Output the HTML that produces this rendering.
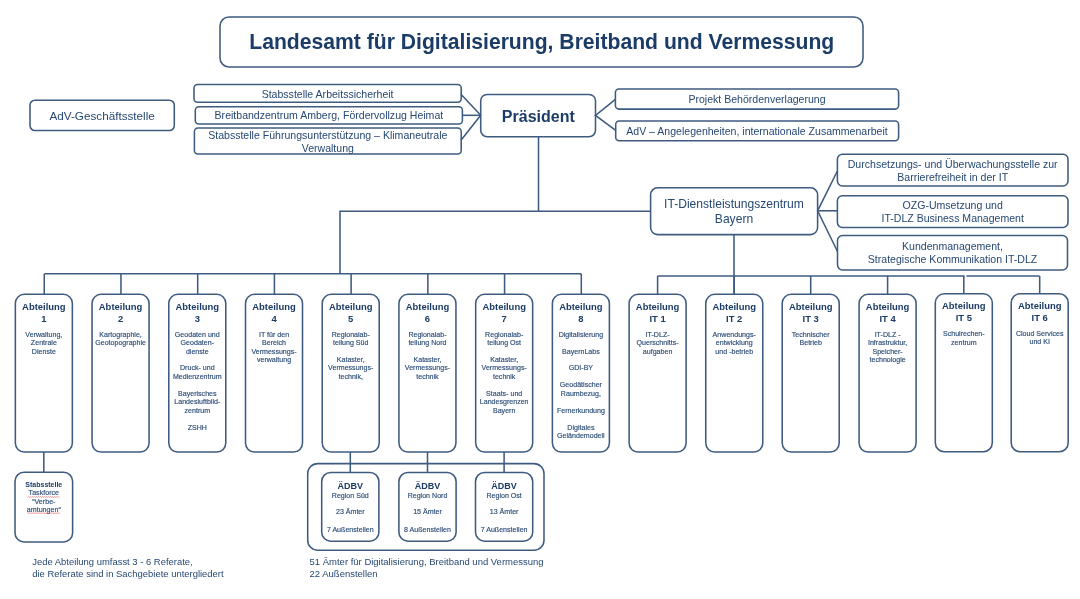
<!DOCTYPE html>
<html><head><meta charset="utf-8"><style>
html,body{margin:0;padding:0;background:#fff;}
svg{display:block;will-change:transform;}
text{font-family:"Liberation Sans",sans-serif;}
.sm{stroke:#3a5a82;stroke-width:0.18;}
</style></head><body>
<svg width="1080" height="599" viewBox="0 0 1080 599">
<rect width="1080" height="599" fill="#fff"/>
<g fill="none" stroke="#3e5b80" stroke-width="1.55">
<rect x="220.00" y="17.00" width="643.00" height="50.00" rx="9" ry="9"/>
<rect x="30.00" y="100.20" width="144.30" height="30.40" rx="5" ry="5"/>
<rect x="194.00" y="84.40" width="267.20" height="17.90" rx="3.5" ry="3.5"/>
<rect x="195.30" y="106.70" width="267.10" height="17.30" rx="3.5" ry="3.5"/>
<rect x="194.40" y="128.00" width="266.80" height="26.00" rx="3.5" ry="3.5"/>
<path d="M461.20 94.50 L480.70 115.30 L461.20 140.00"/>
<path d="M462.40 115.30 L480.70 115.30"/>
<rect x="480.70" y="94.40" width="114.80" height="42.40" rx="6.5" ry="6.5"/>
<rect x="615.40" y="89.00" width="283.20" height="20.10" rx="3.5" ry="3.5"/>
<rect x="615.70" y="120.90" width="282.90" height="19.90" rx="3.5" ry="3.5"/>
<path d="M615.40 99.30 L595.50 115.50 L615.70 130.30"/>
<path d="M538.50 136.80 L538.50 211.20"/>
<path d="M340.00 273.75 L340.00 211.20 L650.60 211.20"/>
<rect x="650.60" y="187.80" width="167.00" height="46.80" rx="7" ry="7"/>
<rect x="837.40" y="154.30" width="230.60" height="31.60" rx="5" ry="5"/>
<rect x="837.40" y="195.80" width="230.60" height="31.60" rx="5" ry="5"/>
<rect x="837.50" y="235.50" width="230.00" height="34.50" rx="5" ry="5"/>
<path d="M837.40 171.00 L817.60 210.80 L837.50 251.50"/>
<path d="M817.60 210.80 L837.40 210.80"/>
<path d="M734.00 234.60 L734.00 294.30"/>
<path d="M44.50 273.75 L581.25 273.75"/>
<rect x="15.35" y="294.30" width="57.00" height="157.80" rx="9" ry="9"/>
<path d="M44.25 273.75 L44.25 294.30"/>
<rect x="92.07" y="294.30" width="57.00" height="157.80" rx="9" ry="9"/>
<path d="M120.97 273.75 L120.97 294.30"/>
<rect x="168.79" y="294.30" width="57.00" height="157.80" rx="9" ry="9"/>
<path d="M197.69 273.75 L197.69 294.30"/>
<rect x="245.51" y="294.30" width="57.00" height="157.80" rx="9" ry="9"/>
<path d="M274.41 273.75 L274.41 294.30"/>
<rect x="322.23" y="294.30" width="57.00" height="157.80" rx="9" ry="9"/>
<path d="M351.13 273.75 L351.13 294.30"/>
<rect x="398.95" y="294.30" width="57.00" height="157.80" rx="9" ry="9"/>
<path d="M427.85 273.75 L427.85 294.30"/>
<rect x="475.67" y="294.30" width="57.00" height="157.80" rx="9" ry="9"/>
<path d="M504.57 273.75 L504.57 294.30"/>
<rect x="552.39" y="294.30" width="57.00" height="157.80" rx="9" ry="9"/>
<path d="M581.29 273.75 L581.29 294.30"/>
<path d="M657.50 276.00 L964.60 276.00"/>
<path d="M966.40 276.00 L1039.50 276.00"/>
<rect x="629.10" y="294.30" width="57.00" height="157.80" rx="9" ry="9"/>
<path d="M657.60 276.00 L657.60 294.30"/>
<rect x="705.75" y="294.30" width="57.00" height="157.80" rx="9" ry="9"/>
<path d="M734.25 276.00 L734.25 294.30"/>
<rect x="782.20" y="294.30" width="57.00" height="157.80" rx="9" ry="9"/>
<path d="M810.70 276.00 L810.70 294.30"/>
<rect x="859.10" y="294.30" width="57.00" height="157.80" rx="9" ry="9"/>
<path d="M887.60 276.00 L887.60 294.30"/>
<rect x="935.30" y="293.80" width="57.00" height="158.00" rx="9" ry="9"/>
<path d="M963.80 276.00 L963.80 293.80"/>
<rect x="1011.20" y="293.70" width="57.00" height="158.04" rx="9" ry="9"/>
<path d="M1039.70 276.00 L1039.70 293.70"/>
<rect x="15.00" y="472.20" width="57.60" height="69.70" rx="9" ry="9"/>
<path d="M43.80 452.10 L43.80 472.20"/>
<rect x="307.70" y="463.60" width="236.30" height="86.60" rx="10" ry="10"/>
<rect x="321.70" y="472.50" width="57.20" height="68.70" rx="9" ry="9"/>
<path d="M350.30 452.10 L350.30 472.50"/>
<rect x="398.90" y="472.50" width="57.20" height="68.70" rx="9" ry="9"/>
<path d="M427.50 452.10 L427.50 472.50"/>
<rect x="475.50" y="472.50" width="57.20" height="68.70" rx="9" ry="9"/>
<path d="M504.10 452.10 L504.10 472.50"/>
</g>
<g fill="none">
<path d="M27.5 497 L28.50 496.30 L29.50 497.70 L30.50 496.30 L31.50 497.70 L32.50 496.30 L33.50 497.70 L34.50 496.30 L35.50 497.70 L36.50 496.30 L37.50 497.70 L38.50 496.30 L39.50 497.70 L40.50 496.30 L41.50 497.70 L42.50 496.30 L43.50 497.70 L44.50 496.30 L45.50 497.70 L46.50 496.30 L47.50 497.70 L48.50 496.30 L49.50 497.70 L50.50 496.30 L51.50 497.70 L52.50 496.30 L53.50 497.70 L54.50 496.30 L55.50 497.70 L56.50 496.30 L57.50 497.70 L58.50 496.30 L59.50 497.70" stroke="#e87070" stroke-width="0.55"/>
<path d="M27 513.2 L28.00 512.50 L29.00 513.90 L30.00 512.50 L31.00 513.90 L32.00 512.50 L33.00 513.90 L34.00 512.50 L35.00 513.90 L36.00 512.50 L37.00 513.90 L38.00 512.50 L39.00 513.90 L40.00 512.50 L41.00 513.90 L42.00 512.50 L43.00 513.90 L44.00 512.50 L45.00 513.90 L46.00 512.50 L47.00 513.90 L48.00 512.50 L49.00 513.90 L50.00 512.50 L51.00 513.90 L52.00 512.50 L53.00 513.90 L54.00 512.50 L55.00 513.90 L56.00 512.50 L57.00 513.90 L58.00 512.50 L59.00 513.90 L60.00 512.50" stroke="#e87070" stroke-width="0.55"/>
</g>
<g>
<text x="541.75" y="48.90" font-size="21.15" text-anchor="middle" font-weight="700" fill="#1b3c66">Landesamt für Digitalisierung, Breitband und Vermessung</text>
<text x="102.15" y="119.90" font-size="11.7" text-anchor="middle" fill="#264873">AdV-Geschäftsstelle</text>
<text x="327.60" y="97.90" font-size="10.55" text-anchor="middle" fill="#264873">Stabsstelle Arbeitssicherheit</text>
<text x="328.90" y="119.00" font-size="10.55" text-anchor="middle" fill="#264873">Breitbandzentrum Amberg, Fördervollzug Heimat</text>
<text x="327.80" y="138.80" font-size="10.55" text-anchor="middle" fill="#264873">Stabsstelle Führungsunterstützung – Klimaneutrale</text>
<text x="327.80" y="151.50" font-size="10.55" text-anchor="middle" fill="#264873">Verwaltung</text>
<text x="538.30" y="121.50" font-size="16" text-anchor="middle" font-weight="700" fill="#1b3c66">Präsident</text>
<text x="757.00" y="102.90" font-size="10.55" text-anchor="middle" fill="#264873">Projekt Behördenverlagerung</text>
<text x="757.00" y="134.80" font-size="10.55" text-anchor="middle" fill="#264873">AdV – Angelegenheiten, internationale Zusammenarbeit</text>
<text x="734.00" y="208.10" font-size="12.1" text-anchor="middle" fill="#264873">IT-Dienstleistungszentrum</text>
<text x="734.00" y="222.60" font-size="12.1" text-anchor="middle" fill="#264873">Bayern</text>
<text x="952.70" y="167.50" font-size="10.55" text-anchor="middle" fill="#264873">Durchsetzungs- und Überwachungsstelle zur</text>
<text x="952.70" y="180.70" font-size="10.55" text-anchor="middle" fill="#264873">Barrierefreiheit in der IT</text>
<text x="952.70" y="208.90" font-size="10.55" text-anchor="middle" fill="#264873">OZG-Umsetzung und</text>
<text x="952.70" y="222.20" font-size="10.55" text-anchor="middle" fill="#264873">IT-DLZ Business Management</text>
<text x="952.50" y="250.00" font-size="10.55" text-anchor="middle" fill="#264873">Kundenmanagement,</text>
<text x="952.50" y="262.60" font-size="10.55" text-anchor="middle" fill="#264873">Strategische Kommunikation IT-DLZ</text>
<text x="43.85" y="309.80" font-size="9.45" text-anchor="middle" font-weight="700" fill="#1b3c66">Abteilung</text>
<text x="43.85" y="321.60" font-size="9.45" text-anchor="middle" font-weight="700" fill="#1b3c66">1</text>
<text class="sm" transform="translate(43.85 336.60) scale(0.885 1)" font-size="8" text-anchor="middle" fill="#264873">Verwaltung,</text>
<text class="sm" transform="translate(43.85 345.05) scale(0.885 1)" font-size="8" text-anchor="middle" fill="#264873">Zentrale</text>
<text class="sm" transform="translate(43.85 353.50) scale(0.885 1)" font-size="8" text-anchor="middle" fill="#264873">Dienste</text>
<text x="120.57" y="309.80" font-size="9.45" text-anchor="middle" font-weight="700" fill="#1b3c66">Abteilung</text>
<text x="120.57" y="321.60" font-size="9.45" text-anchor="middle" font-weight="700" fill="#1b3c66">2</text>
<text class="sm" transform="translate(120.57 336.60) scale(0.885 1)" font-size="8" text-anchor="middle" fill="#264873">Kartographie,</text>
<text class="sm" transform="translate(120.57 345.05) scale(0.885 1)" font-size="8" text-anchor="middle" fill="#264873">Geotopographie</text>
<text x="197.29" y="309.80" font-size="9.45" text-anchor="middle" font-weight="700" fill="#1b3c66">Abteilung</text>
<text x="197.29" y="321.60" font-size="9.45" text-anchor="middle" font-weight="700" fill="#1b3c66">3</text>
<text class="sm" transform="translate(197.29 336.60) scale(0.885 1)" font-size="8" text-anchor="middle" fill="#264873">Geodaten und</text>
<text class="sm" transform="translate(197.29 345.05) scale(0.885 1)" font-size="8" text-anchor="middle" fill="#264873">Geodaten-</text>
<text class="sm" transform="translate(197.29 353.50) scale(0.885 1)" font-size="8" text-anchor="middle" fill="#264873">dienste</text>
<text class="sm" transform="translate(197.29 370.40) scale(0.885 1)" font-size="8" text-anchor="middle" fill="#264873">Druck- und</text>
<text class="sm" transform="translate(197.29 378.85) scale(0.885 1)" font-size="8" text-anchor="middle" fill="#264873">Medienzentrum</text>
<text class="sm" transform="translate(197.29 395.75) scale(0.885 1)" font-size="8" text-anchor="middle" fill="#264873">Bayerisches</text>
<text class="sm" transform="translate(197.29 404.20) scale(0.885 1)" font-size="8" text-anchor="middle" fill="#264873">Landesluftbild-</text>
<text class="sm" transform="translate(197.29 412.65) scale(0.885 1)" font-size="8" text-anchor="middle" fill="#264873">zentrum</text>
<text class="sm" transform="translate(197.29 429.55) scale(0.885 1)" font-size="8" text-anchor="middle" fill="#264873">ZSHH</text>
<text x="274.01" y="309.80" font-size="9.45" text-anchor="middle" font-weight="700" fill="#1b3c66">Abteilung</text>
<text x="274.01" y="321.60" font-size="9.45" text-anchor="middle" font-weight="700" fill="#1b3c66">4</text>
<text class="sm" transform="translate(274.01 336.60) scale(0.885 1)" font-size="8" text-anchor="middle" fill="#264873">IT für den</text>
<text class="sm" transform="translate(274.01 345.05) scale(0.885 1)" font-size="8" text-anchor="middle" fill="#264873">Bereich</text>
<text class="sm" transform="translate(274.01 353.50) scale(0.885 1)" font-size="8" text-anchor="middle" fill="#264873">Vermessungs-</text>
<text class="sm" transform="translate(274.01 361.95) scale(0.885 1)" font-size="8" text-anchor="middle" fill="#264873">verwaltung</text>
<text x="350.73" y="309.80" font-size="9.45" text-anchor="middle" font-weight="700" fill="#1b3c66">Abteilung</text>
<text x="350.73" y="321.60" font-size="9.45" text-anchor="middle" font-weight="700" fill="#1b3c66">5</text>
<text class="sm" transform="translate(350.73 336.60) scale(0.885 1)" font-size="8" text-anchor="middle" fill="#264873">Regionalab-</text>
<text class="sm" transform="translate(350.73 345.05) scale(0.885 1)" font-size="8" text-anchor="middle" fill="#264873">teilung Süd</text>
<text class="sm" transform="translate(350.73 361.95) scale(0.885 1)" font-size="8" text-anchor="middle" fill="#264873">Kataster,</text>
<text class="sm" transform="translate(350.73 370.40) scale(0.885 1)" font-size="8" text-anchor="middle" fill="#264873">Vermessungs-</text>
<text class="sm" transform="translate(350.73 378.85) scale(0.885 1)" font-size="8" text-anchor="middle" fill="#264873">technik,</text>
<text x="427.45" y="309.80" font-size="9.45" text-anchor="middle" font-weight="700" fill="#1b3c66">Abteilung</text>
<text x="427.45" y="321.60" font-size="9.45" text-anchor="middle" font-weight="700" fill="#1b3c66">6</text>
<text class="sm" transform="translate(427.45 336.60) scale(0.885 1)" font-size="8" text-anchor="middle" fill="#264873">Regionalab-</text>
<text class="sm" transform="translate(427.45 345.05) scale(0.885 1)" font-size="8" text-anchor="middle" fill="#264873">teilung Nord</text>
<text class="sm" transform="translate(427.45 361.95) scale(0.885 1)" font-size="8" text-anchor="middle" fill="#264873">Kataster,</text>
<text class="sm" transform="translate(427.45 370.40) scale(0.885 1)" font-size="8" text-anchor="middle" fill="#264873">Vermessungs-</text>
<text class="sm" transform="translate(427.45 378.85) scale(0.885 1)" font-size="8" text-anchor="middle" fill="#264873">technik</text>
<text x="504.17" y="309.80" font-size="9.45" text-anchor="middle" font-weight="700" fill="#1b3c66">Abteilung</text>
<text x="504.17" y="321.60" font-size="9.45" text-anchor="middle" font-weight="700" fill="#1b3c66">7</text>
<text class="sm" transform="translate(504.17 336.60) scale(0.885 1)" font-size="8" text-anchor="middle" fill="#264873">Regionalab-</text>
<text class="sm" transform="translate(504.17 345.05) scale(0.885 1)" font-size="8" text-anchor="middle" fill="#264873">teilung Ost</text>
<text class="sm" transform="translate(504.17 361.95) scale(0.885 1)" font-size="8" text-anchor="middle" fill="#264873">Kataster,</text>
<text class="sm" transform="translate(504.17 370.40) scale(0.885 1)" font-size="8" text-anchor="middle" fill="#264873">Vermessungs-</text>
<text class="sm" transform="translate(504.17 378.85) scale(0.885 1)" font-size="8" text-anchor="middle" fill="#264873">technik</text>
<text class="sm" transform="translate(504.17 395.75) scale(0.885 1)" font-size="8" text-anchor="middle" fill="#264873">Staats- und</text>
<text class="sm" transform="translate(504.17 404.20) scale(0.885 1)" font-size="8" text-anchor="middle" fill="#264873">Landesgrenzen</text>
<text class="sm" transform="translate(504.17 412.65) scale(0.885 1)" font-size="8" text-anchor="middle" fill="#264873">Bayern</text>
<text x="580.89" y="309.80" font-size="9.45" text-anchor="middle" font-weight="700" fill="#1b3c66">Abteilung</text>
<text x="580.89" y="321.60" font-size="9.45" text-anchor="middle" font-weight="700" fill="#1b3c66">8</text>
<text class="sm" transform="translate(580.89 336.60) scale(0.885 1)" font-size="8" text-anchor="middle" fill="#264873">Digitalisierung</text>
<text class="sm" transform="translate(580.89 353.50) scale(0.885 1)" font-size="8" text-anchor="middle" fill="#264873">BayernLabs</text>
<text class="sm" transform="translate(580.89 370.40) scale(0.885 1)" font-size="8" text-anchor="middle" fill="#264873">GDI-BY</text>
<text class="sm" transform="translate(580.89 387.30) scale(0.885 1)" font-size="8" text-anchor="middle" fill="#264873">Geodätischer</text>
<text class="sm" transform="translate(580.89 395.75) scale(0.885 1)" font-size="8" text-anchor="middle" fill="#264873">Raumbezug,</text>
<text class="sm" transform="translate(580.89 412.65) scale(0.885 1)" font-size="8" text-anchor="middle" fill="#264873">Fernerkundung</text>
<text class="sm" transform="translate(580.89 429.55) scale(0.885 1)" font-size="8" text-anchor="middle" fill="#264873">Digitales</text>
<text class="sm" transform="translate(580.89 438.00) scale(0.885 1)" font-size="8" text-anchor="middle" fill="#264873">Geländemodell</text>
<text x="657.60" y="309.80" font-size="9.45" text-anchor="middle" font-weight="700" fill="#1b3c66">Abteilung</text>
<text x="657.60" y="321.60" font-size="9.45" text-anchor="middle" font-weight="700" fill="#1b3c66">IT 1</text>
<text class="sm" transform="translate(657.60 336.60) scale(0.885 1)" font-size="8" text-anchor="middle" fill="#264873">IT-DLZ-</text>
<text class="sm" transform="translate(657.60 345.05) scale(0.885 1)" font-size="8" text-anchor="middle" fill="#264873">Querschnitts-</text>
<text class="sm" transform="translate(657.60 353.50) scale(0.885 1)" font-size="8" text-anchor="middle" fill="#264873">aufgaben</text>
<text x="734.25" y="309.80" font-size="9.45" text-anchor="middle" font-weight="700" fill="#1b3c66">Abteilung</text>
<text x="734.25" y="321.60" font-size="9.45" text-anchor="middle" font-weight="700" fill="#1b3c66">IT 2</text>
<text class="sm" transform="translate(734.25 336.60) scale(0.885 1)" font-size="8" text-anchor="middle" fill="#264873">Anwendungs-</text>
<text class="sm" transform="translate(734.25 345.05) scale(0.885 1)" font-size="8" text-anchor="middle" fill="#264873">entwicklung</text>
<text class="sm" transform="translate(734.25 353.50) scale(0.885 1)" font-size="8" text-anchor="middle" fill="#264873">und -betrieb</text>
<text x="810.70" y="309.80" font-size="9.45" text-anchor="middle" font-weight="700" fill="#1b3c66">Abteilung</text>
<text x="810.70" y="321.60" font-size="9.45" text-anchor="middle" font-weight="700" fill="#1b3c66">IT 3</text>
<text class="sm" transform="translate(810.70 336.60) scale(0.885 1)" font-size="8" text-anchor="middle" fill="#264873">Technischer</text>
<text class="sm" transform="translate(810.70 345.05) scale(0.885 1)" font-size="8" text-anchor="middle" fill="#264873">Betrieb</text>
<text x="887.60" y="309.80" font-size="9.45" text-anchor="middle" font-weight="700" fill="#1b3c66">Abteilung</text>
<text x="887.60" y="321.60" font-size="9.45" text-anchor="middle" font-weight="700" fill="#1b3c66">IT 4</text>
<text class="sm" transform="translate(887.60 336.60) scale(0.885 1)" font-size="8" text-anchor="middle" fill="#264873">IT-DLZ -</text>
<text class="sm" transform="translate(887.60 345.05) scale(0.885 1)" font-size="8" text-anchor="middle" fill="#264873">Infrastruktur,</text>
<text class="sm" transform="translate(887.60 353.50) scale(0.885 1)" font-size="8" text-anchor="middle" fill="#264873">Speicher-</text>
<text class="sm" transform="translate(887.60 361.95) scale(0.885 1)" font-size="8" text-anchor="middle" fill="#264873">technologie</text>
<text x="963.80" y="309.30" font-size="9.45" text-anchor="middle" font-weight="700" fill="#1b3c66">Abteilung</text>
<text x="963.80" y="321.10" font-size="9.45" text-anchor="middle" font-weight="700" fill="#1b3c66">IT 5</text>
<text class="sm" transform="translate(963.80 336.10) scale(0.885 1)" font-size="8" text-anchor="middle" fill="#264873">Schulrechen-</text>
<text class="sm" transform="translate(963.80 344.55) scale(0.885 1)" font-size="8" text-anchor="middle" fill="#264873">zentrum</text>
<text x="1039.70" y="309.20" font-size="9.45" text-anchor="middle" font-weight="700" fill="#1b3c66">Abteilung</text>
<text x="1039.70" y="321.00" font-size="9.45" text-anchor="middle" font-weight="700" fill="#1b3c66">IT 6</text>
<text class="sm" transform="translate(1039.70 336.00) scale(0.885 1)" font-size="8" text-anchor="middle" fill="#264873">Cloud Services</text>
<text class="sm" transform="translate(1039.70 344.45) scale(0.885 1)" font-size="8" text-anchor="middle" fill="#264873">und KI</text>
<text transform="translate(43.80 486.60) scale(0.92 1)" font-size="7.6" text-anchor="middle" font-weight="700" fill="#1b3c66">Stabsstelle</text>
<text class="sm" transform="translate(43.80 495.30) scale(0.89 1)" font-size="8" text-anchor="middle" fill="#264873">Taskforce</text>
<text class="sm" transform="translate(43.80 503.50) scale(0.89 1)" font-size="8" text-anchor="middle" fill="#264873">“Verbe-</text>
<text class="sm" transform="translate(43.80 511.80) scale(0.89 1)" font-size="8" text-anchor="middle" fill="#264873">amtungen“</text>
<text x="350.30" y="488.70" font-size="9" text-anchor="middle" font-weight="700" fill="#1b3c66">ÄDBV</text>
<text class="sm" transform="translate(350.30 497.70) scale(0.885 1)" font-size="8" text-anchor="middle" fill="#264873">Region Süd</text>
<text class="sm" transform="translate(350.30 514.40) scale(0.885 1)" font-size="8" text-anchor="middle" fill="#264873">23 Ämter</text>
<text class="sm" transform="translate(350.30 531.70) scale(0.885 1)" font-size="8" text-anchor="middle" fill="#264873">7 Außenstellen</text>
<text x="427.50" y="488.70" font-size="9" text-anchor="middle" font-weight="700" fill="#1b3c66">ÄDBV</text>
<text class="sm" transform="translate(427.50 497.70) scale(0.885 1)" font-size="8" text-anchor="middle" fill="#264873">Region Nord</text>
<text class="sm" transform="translate(427.50 514.40) scale(0.885 1)" font-size="8" text-anchor="middle" fill="#264873">15 Ämter</text>
<text class="sm" transform="translate(427.50 531.70) scale(0.885 1)" font-size="8" text-anchor="middle" fill="#264873">8 Außenstellen</text>
<text x="504.10" y="488.70" font-size="9" text-anchor="middle" font-weight="700" fill="#1b3c66">ÄDBV</text>
<text class="sm" transform="translate(504.10 497.70) scale(0.885 1)" font-size="8" text-anchor="middle" fill="#264873">Region Ost</text>
<text class="sm" transform="translate(504.10 514.40) scale(0.885 1)" font-size="8" text-anchor="middle" fill="#264873">13 Ämter</text>
<text class="sm" transform="translate(504.10 531.70) scale(0.885 1)" font-size="8" text-anchor="middle" fill="#264873">7 Außenstellen</text>
<text transform="translate(32.20 565.20) scale(0.955 1)" font-size="9.9" text-anchor="start" fill="#264873">Jede Abteilung umfasst 3 - 6 Referate,</text>
<text transform="translate(32.20 576.90) scale(0.955 1)" font-size="9.9" text-anchor="start" fill="#264873">die Referate sind in Sachgebiete untergliedert</text>
<text transform="translate(309.60 564.90) scale(0.958 1)" font-size="9.9" text-anchor="start" fill="#264873">51 Ämter für Digitalisierung, Breitband und Vermessung</text>
<text transform="translate(309.60 576.70) scale(0.958 1)" font-size="9.9" text-anchor="start" fill="#264873">22 Außenstellen</text>
</g>
</svg>
</body></html>
